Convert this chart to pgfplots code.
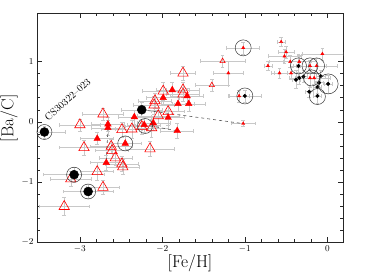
\documentclass[border=0pt]{standalone}
\usepackage{pgfplots}
\pgfplotsset{compat=1.18}
\usepackage{pgfplotstable}
\definecolor{errgray}{RGB}{200,200,200}
\definecolor{circgray}{RGB}{55,55,55}
\definecolor{myred}{RGB}{255,0,0}

% big black dots
\pgfplotstableread{
x y ex ey
-3.43 -0.17 0.25 0.10
-3.07 -0.88 0.37 0.12
-2.90 -1.16 0.30 0.12
-2.25 0.20 0.25 0.12
}\bigblack
% large open red triangles
\pgfplotstableread{
x y ex ey
-3.00 -0.05 0.25 0.10
-2.72 0.13 0.25 0.10
-2.95 -0.43 0.30 0.12
-3.11 -0.95 0.25 0.12
-2.79 -0.83 0.20 0.15
-2.72 -1.09 0.20 0.12
-3.19 -1.41 0.30 0.15
-2.57 -0.60 0.20 0.12
-2.62 -0.41 0.25 0.12
-2.61 -0.48 0.20 0.12
-2.49 -0.70 0.20 0.12
-2.48 -0.75 0.20 0.12
-2.15 -0.45 0.30 0.12
-1.75 0.81 0.15 0.12
-1.99 0.51 0.25 0.15
-1.75 0.53 0.20 0.12
-1.75 0.46 0.20 0.12
-2.09 0.35 0.20 0.12
-2.10 0.28 0.25 0.15
-2.05 0.10 0.25 0.12
-1.93 0.17 0.20 0.12
-2.49 -0.13 0.25 0.12
-2.37 -0.12 0.20 0.15
-2.25 -0.08 0.20 0.12
-2.13 -0.10 0.20 0.15
}\opentri
% large filled red triangles
\pgfplotstableread{
x y ex ey
-2.66 -0.10 0.20 0.12
-2.66 -0.04 0.20 0.12
-2.79 -0.28 0.20 0.10
-2.68 -0.68 0.20 0.12
-2.45 -0.36 0.20 0.12
-2.22 -0.05 0.20 0.12
-2.34 0.08 0.20 0.12
-2.11 -0.02 0.20 0.12
-1.88 0.53 0.20 0.12
-1.99 0.40 0.20 0.12
-1.70 0.43 0.20 0.12
-1.81 0.30 0.20 0.12
-1.68 0.30 0.20 0.12
-1.93 0.07 0.20 0.12
-1.82 -0.15 0.20 0.12
}\filltri
% small open red triangles
\pgfplotstableread{
x y ex ey
-1.40 0.61 0.20 0.10
-1.27 1.01 0.27 0.10
}\smallopen
% small filled red triangles
\pgfplotstableread{
x y ex ey
-1.20 0.81 0.18 0.20
-1.02 1.23 0.20 0.10
-1.07 0.43 0.12 0.10
-1.02 -0.03 0.15 0.05
-0.72 0.93 0.05 0.08
-0.56 1.33 0.05 0.08
-0.50 1.16 0.10 0.10
-0.52 1.09 0.20 0.12
-0.45 1.00 0.25 0.10
-0.58 0.81 0.10 0.08
-0.44 0.81 0.20 0.10
-0.34 1.00 0.20 0.10
-0.21 0.93 0.20 0.10
-0.13 0.93 0.25 0.12
-0.06 1.13 0.25 0.10
-0.21 0.73 0.25 0.15
-0.16 0.73 0.20 0.10
}\smallfill
% small black dots
\pgfplotstableread{
x y ex ey
-1.00 0.43 0.20 0.10
-0.35 0.93 0.10 0.20
-0.38 0.70 0.05 0.15
-0.34 0.73 0.05 0.10
-0.29 0.75 0.05 0.10
-0.08 0.76 0.05 0.10
-0.10 0.65 0.05 0.10
-0.12 0.58 0.05 0.10
0.01 0.63 0.05 0.15
-0.22 0.50 0.05 0.10
-0.12 0.43 0.05 0.12
}\smallblack
% circles
\pgfplotstableread{
x y
-3.43 -0.17
-3.07 -0.88
-2.90 -1.16
-2.45 -0.36
-2.21 -0.07
}\circA
\pgfplotstableread{
x y
-1.02 1.23
-1.00 0.43
-0.35 0.93
-0.21 0.93
-0.13 0.93
-0.19 0.73
-0.12 0.42
}\circB
\pgfplotstableread{
x y
0.01 0.63
}\circC

\begin{document}
\begin{tikzpicture}
\begin{axis}[
  scale only axis, width=306pt, height=229pt,
  xmin=-3.52, xmax=0.19, ymin=-2, ymax=1.81,
  xtick={-3,-2,-1,0}, ytick={-2,-1,0,1},
  minor x tick num=4, minor y tick num=4,
  tick align=inside, major tick length=5pt, minor tick length=3pt,
  tick label style={font=\small},
  xlabel={[Fe/H]}, ylabel={[Ba/C]},
  label style={font=\LARGE},
  xlabel style={at={(axis description cs:0.5,-0.04)}, anchor=north},
  ylabel style={at={(axis description cs:-0.052,0.54)}, anchor=south},
  axis line style={line width=0.7pt, black!85},
  every tick/.style={black!85, line width=0.5pt},
  errbar/.style={draw=none, mark=none, forget plot,
    error bars/.cd, x dir=both, x explicit, y dir=both, y explicit,
    error bar style={draw=errgray, line width=0.5pt},
    error mark options={draw=errgray, rotate=90, mark size=1.8pt, line width=0.5pt}},
]
% error bars first
\addplot[errbar] table[x=x, y=y, x error=ex, y error=ey] {\opentri};
\addplot[errbar] table[x=x, y=y, x error=ex, y error=ey] {\filltri};
\addplot[errbar] table[x=x, y=y, x error=ex, y error=ey] {\smallopen};
\addplot[errbar] table[x=x, y=y, x error=ex, y error=ey] {\smallfill};
\addplot[errbar] table[x=x, y=y, x error=ex, y error=ey] {\smallblack};
\addplot[errbar] table[x=x, y=y, x error=ex, y error=ey] {\bigblack};
% dashed connections
\addplot[dashed, black!65, line width=0.6pt] coordinates {(-2.25,0.20) (-1.02,-0.03)};
\addplot[dashed, black!65, line width=0.6pt] coordinates {(-2.66,-0.10) (-2.68,-0.68)};
\addplot[dashed, black!65, line width=0.6pt] coordinates {(-2.22,-0.05) (-1.82,-0.15)};
% markers
\addplot[only marks, mark=triangle, mark size=6pt, mark options={draw=myred, fill=none, line width=0.6pt}] table[x=x,y=y] {\opentri};
\addplot[only marks, mark=triangle*, mark size=3.8pt, mark options={draw=myred, fill=myred}] table[x=x,y=y] {\filltri};
\addplot[only marks, mark=triangle, mark size=3pt, mark options={draw=myred, fill=none, line width=0.6pt}] table[x=x,y=y] {\smallopen};
\addplot[only marks, mark=triangle*, mark size=1.8pt, mark options={draw=myred, fill=myred}] table[x=x,y=y] {\smallfill};
\addplot[only marks, mark=*, mark size=1.8pt, mark options={draw=black, fill=black}] table[x=x,y=y] {\smallblack};
\addplot[only marks, mark=*, mark size=4.5pt, mark options={draw=black, fill=black}] table[x=x,y=y] {\bigblack};
% circles
\addplot[only marks, mark=o, mark size=7.5pt, mark options={draw=circgray, line width=0.5pt}] table[x=x,y=y] {\circA};
\addplot[only marks, mark=o, mark size=8pt, mark options={draw=circgray, line width=0.5pt}] table[x=x,y=y] {\circB};
\addplot[only marks, mark=o, mark size=10pt, mark options={draw=circgray, line width=0.5pt}] table[x=x,y=y] {\circC};
\node[rotate=42, anchor=south west, inner sep=0pt, font=\normalsize] at (axis cs:-3.38,0.0) {CS30322--023};
\end{axis}
\pgfresetboundingbox
\path[use as bounding box] ([shift={(-37pt,-31pt)}]current axis.south west) rectangle ([shift={(22pt,13pt)}]current axis.north east);
\end{tikzpicture}
\end{document}
